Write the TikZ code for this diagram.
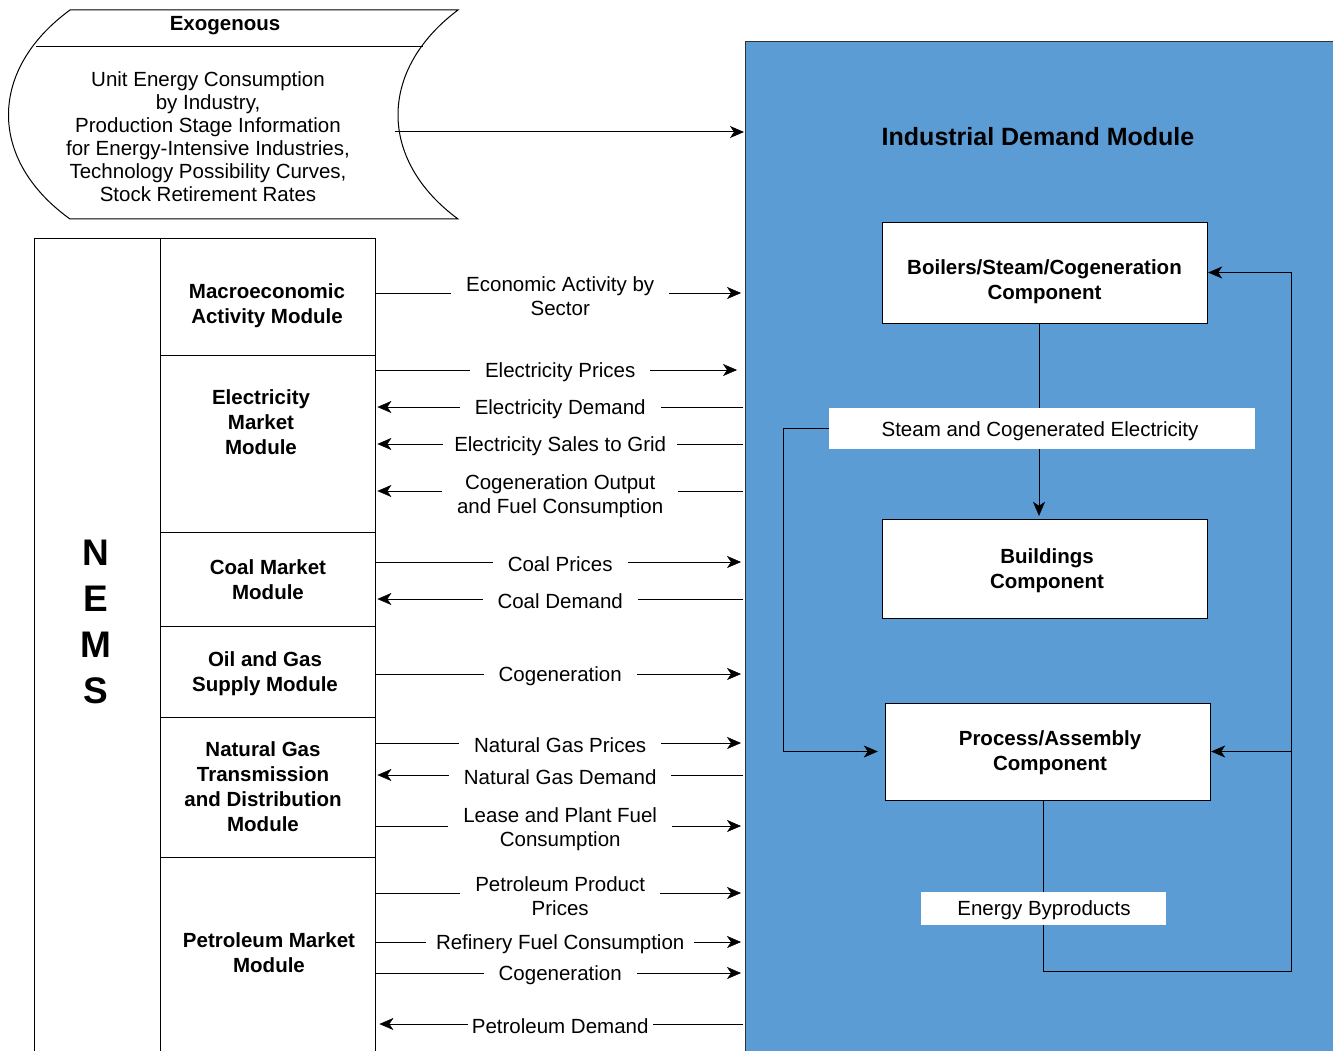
\documentclass[tikz,border=0pt]{standalone}
\usepackage{fontspec}
\setmainfont{Liberation Sans}
\usetikzlibrary{arrows.meta}
\pgfdeclarelayer{bg}
\pgfdeclarelayer{mid}
\pgfsetlayers{bg,mid,main}
\definecolor{idmblue}{RGB}{91,156,213}
\begin{document}
\begin{tikzpicture}[x=1pt,y=-1pt, line width=1.1pt,
  arr/.style={-{Stealth[length=14pt,width=12pt,inset=4pt]}},
  txt/.style={font=\fontsize{20.5}{24}\selectfont, align=center},
  btxt/.style={font=\bfseries\fontsize{20.5}{25}\selectfont, align=center},
  lbl/.style={txt, fill=white, inner xsep=15pt, inner ysep=1pt, yshift=-2pt},
  comp/.style={draw, fill=white, minimum width=325pt, inner sep=0pt},
  cell/.style={draw, minimum width=215pt, inner sep=0pt, anchor=north west},
  rarr/.style={arr, shorten >=4pt},
  larr/.style={arr, shorten <=2pt, shorten >=2pt}]
\useasboundingbox (0,0) rectangle (1333,1051);

% Industrial Demand Module background
\begin{pgfonlayer}{bg}
\node[draw=black!80, line width=1pt, fill=idmblue, minimum width=620pt, minimum height=1040pt, inner sep=0pt, anchor=north west] (idm) at (745,41) {};
\end{pgfonlayer}
\node[font=\bfseries\fontsize{25}{30}\selectfont] (title) at (1038,137) {Industrial Demand Module};

% Exogenous stored-data shape
\draw[line width=1pt] (70,10) -- (458,10) .. controls (378,70) and (378,160) .. (458,219) -- (70,219) .. controls (-12,160) and (-12,70) .. (70,10) -- cycle;
\draw[line width=1pt] (36,47) -- (423,47);
\node[btxt] (exot) at (225,26) {Exogenous};
\node[font=\fontsize{20.5}{23}\selectfont, align=center] (exob) at (208,137) {Unit Energy Consumption\\by Industry,\\Production Stage Information\\for Energy-Intensive Industries,\\Technology Possibility Curves,\\Stock Retirement Rates};
\coordinate (exoR) at (395,132);

% NEMS column
\node[draw, minimum width=126pt, minimum height=840pt, inner sep=0pt, anchor=north west] (nems) at (34,238) {};
\node[font=\bfseries\fontsize{37}{46}\selectfont, align=center] (nemst) at (96,622) {N\\E\\M\\S};

\node[cell, minimum height=117pt] (mac) at (160,238) {};
\node[cell, minimum height=177pt] (elec) at (160,355) {};
\node[cell, minimum height=94pt] (coal) at (160,532) {};
\node[cell, minimum height=91pt] (oil) at (160,626) {};
\node[cell, minimum height=140pt] (ng) at (160,717) {};
\node[cell, minimum height=230pt] (pet) at (160,857) {};

\node[btxt] (mact) at (267,306) {Macroeconomic\\Activity Module};
\node[btxt] (elect) at (261,422) {Electricity\\Market\\Module};
\node[btxt] (coalt) at (268,580) {Coal Market\\Module};
\node[btxt] (oilt) at (265,674) {Oil and Gas\\Supply Module};
\node[btxt] (ngt) at (263,787) {Natural Gas\\Transmission\\and Distribution\\Module};
\node[btxt] (pett) at (269,953) {Petroleum Market\\Module};

% Components
\node[comp, minimum height=101pt] (boil) at (1044.5,272.5) {};
\node[btxt] (boilt) at (1044.5,282) {Boilers/Steam/Cogeneration\\Component};
\node[comp, minimum height=99pt] (bld) at (1044.5,568.5) {};
\node[btxt] (bldt) at (1047,571) {Buildings\\Component};
\node[comp, minimum height=97pt] (proc) at (1047.5,751.5) {};
\node[btxt] (proct) at (1050,753) {Process/Assembly\\Component};
\node[txt, fill=white, minimum width=426pt, minimum height=41pt, inner sep=0pt] (steam) at (1042,428.5) {};
\node[txt] (steamt) at (1040,431) {Steam and Cogenerated Electricity};
\node[txt, fill=white, minimum width=245pt, minimum height=33pt, inner sep=0pt] (eb) at (1043.5,908.5) {};
\node[txt] (ebt) at (1044,910) {Energy Byproducts};
\coordinate (vx) at (1039,0);

\begin{pgfonlayer}{mid}
\draw[arr, line width=1pt, shorten >=1pt] (exoR) -- (idm.west |- exoR);

% right-pointing flows
\draw[rarr] (mac.east |- 0,293) -- node[lbl, yshift=-1pt] {Economic Activity by\\Sector} (idm.west |- 0,293);
\draw[rarr, shorten >=8pt] (elec.east |- 0,370) -- node[lbl] {Electricity Prices} (idm.west |- 0,370);
\draw[rarr] (coal.east |- 0,562) -- node[lbl] {Coal Prices} (idm.west |- 0,562);
\draw[rarr] (oil.east |- 0,674) -- node[lbl] {Cogeneration} (idm.west |- 0,674);
\draw[rarr] (ng.east |- 0,743) -- node[lbl] {Natural Gas Prices} (idm.west |- 0,743);
\draw[rarr] (ng.east |- 0,826) -- node[lbl, yshift=-1pt] {Lease and Plant Fuel\\Consumption} (idm.west |- 0,826);
\draw[rarr] (pet.east |- 0,893) -- node[lbl, yshift=-1pt] {Petroleum Product\\Prices} (idm.west |- 0,893);
\draw[rarr] (pet.east |- 0,942) -- node[lbl, inner xsep=10pt] {Refinery Fuel Consumption} (idm.west |- 0,942);
\draw[rarr] (pet.east |- 0,973) -- node[lbl] {Cogeneration} (idm.west |- 0,973);

% left-pointing flows
\draw[larr] (idm.west |- 0,407) -- node[lbl] {Electricity Demand} (elec.east |- 0,407);
\draw[larr] (idm.west |- 0,444) -- node[lbl, inner xsep=11pt] {Electricity Sales to Grid} (elec.east |- 0,444);
\draw[larr] (idm.west |- 0,491) -- node[lbl, yshift=-3pt] {Cogeneration Output\\and Fuel Consumption} (elec.east |- 0,491);
\draw[larr] (idm.west |- 0,599) -- node[lbl] {Coal Demand} (coal.east |- 0,599);
\draw[larr] (idm.west |- 0,775) -- node[lbl] {Natural Gas Demand} (ng.east |- 0,775);
\draw[larr, shorten >=4pt] (idm.west |- 0,1024) -- node[lbl, inner xsep=4pt] {Petroleum Demand} (pet.east |- 0,1024);

% internal connectors
\draw[arr, shorten >=3pt] (boil.south -| vx) -- (bld.north -| vx);
\draw[arr, shorten >=7pt] (steam.west) -- ++(-46,0) |- (proc.west);
\coordinate (loopC) at (1291,971);
\draw[arr, shorten >=1pt] (proc.south -| eb.center) |- (loopC) |- (boil.east);
\draw[arr, shorten >=1pt] (loopC |- proc.east) -- (proc.east);
\end{pgfonlayer}
\end{tikzpicture}
\end{document}
